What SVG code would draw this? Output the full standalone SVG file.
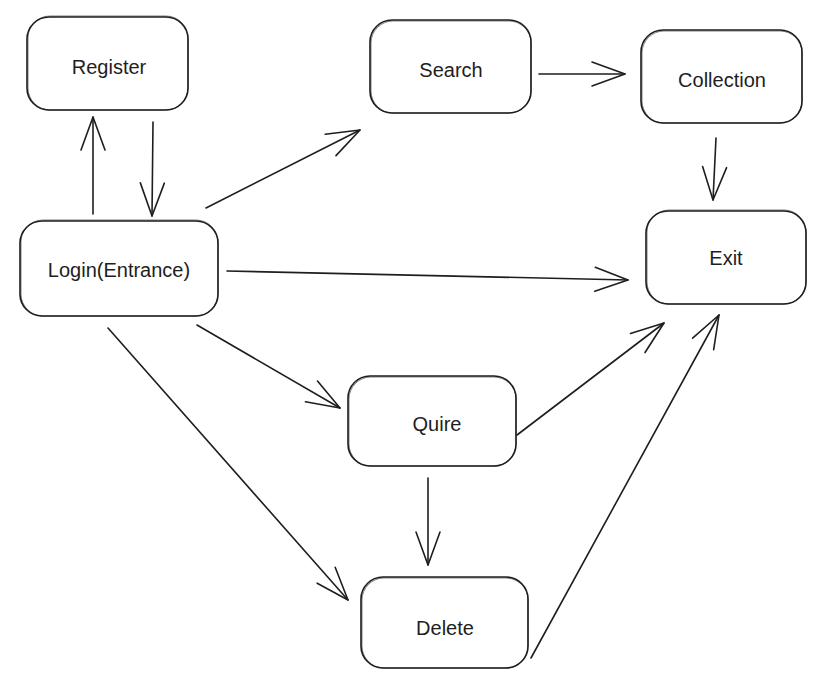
<svg xmlns="http://www.w3.org/2000/svg" width="839" height="686" viewBox="0 0 839 686">
<style>
.box{fill:none;stroke:#1e1e1e;stroke-width:1.6;stroke-linejoin:round}
.box2{fill:none;stroke:#1e1e1e;stroke-width:0.8;opacity:0.7}
.lbl{font-family:"Liberation Sans","DejaVu Sans",sans-serif;font-size:20px;fill:#1e1e1e;text-anchor:middle;dominant-baseline:central}
.edge{fill:none;stroke:#1e1e1e;stroke-width:1.6;stroke-linecap:round;marker-end:url(#head)}
</style>
<defs>
<marker id="head" markerUnits="userSpaceOnUse" markerWidth="40" markerHeight="30" refX="0" refY="0" viewBox="-36 -15 40 30" orient="auto" overflow="visible">
<path d="M-33,-12 L0,0 L-33,12" fill="none" stroke="#1e1e1e" stroke-width="1.6" stroke-linecap="round" stroke-linejoin="round"/>
</marker>
</defs>
<rect width="839" height="686" fill="#ffffff"/>
<g id="connectors">
<path class="edge" d="M93,214 L93,117"/>
<path class="edge" d="M153,122 L152,216"/>
<path class="edge" d="M206,208 L360,130"/>
<path class="edge" d="M539,74 L625,74"/>
<path class="edge" d="M716,138 L713,200"/>
<path class="edge" d="M227,271 L628,280"/>
<path class="edge" d="M197,325 L340,408"/>
<path class="edge" d="M108,328 L348,600"/>
<path class="edge" d="M517,435 L664,323"/>
<path class="edge" d="M428,478 L428,565"/>
<path class="edge" d="M531,658 L719,315"/>
</g>
<g id="register">
<rect class="box" x="27" y="17" width="161" height="93" rx="22"/>
<rect class="box2" x="28" y="16" width="160" height="94" rx="22"/>
<text class="lbl" x="109" y="67">Register</text>
</g>
<g id="search">
<rect class="box" x="370" y="20" width="161" height="93" rx="22"/>
<rect class="box2" x="371" y="21" width="160" height="92" rx="22"/>
<text class="lbl" x="451" y="70">Search</text>
</g>
<g id="collection">
<rect class="box" x="641" y="30" width="161" height="93" rx="22"/>
<rect class="box2" x="642" y="31" width="160" height="92" rx="22"/>
<text class="lbl" x="722" y="80">Collection</text>
</g>
<g id="exit">
<rect class="box" x="646" y="211" width="160" height="93" rx="22"/>
<rect class="box2" x="647" y="210" width="159" height="94" rx="22"/>
<text class="lbl" x="726" y="258">Exit</text>
</g>
<g id="login">
<rect class="box" x="20" y="221" width="198" height="95" rx="22"/>
<rect class="box2" x="21" y="220" width="197" height="96" rx="22"/>
<text class="lbl" x="119" y="270">Login(Entrance)</text>
</g>
<g id="quire">
<rect class="box" x="348" y="376" width="168" height="90" rx="22"/>
<rect class="box2" x="349" y="377" width="167" height="89" rx="22"/>
<text class="lbl" x="437" y="424">Quire</text>
</g>
<g id="delete">
<rect class="box" x="361" y="577" width="167" height="91" rx="22"/>
<rect class="box2" x="362" y="578" width="166" height="90" rx="22"/>
<text class="lbl" x="445" y="628">Delete</text>
</g>
</svg>
